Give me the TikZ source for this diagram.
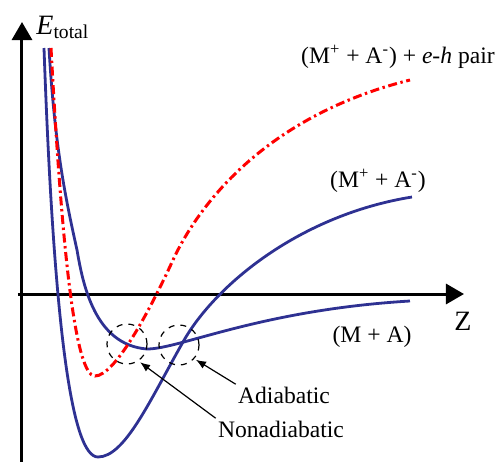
\documentclass[tikz,border=0pt]{standalone}
\usepackage{fontspec}
\setmainfont{Liberation Serif}
\usetikzlibrary{arrows.meta}

\definecolor{pesblue}{RGB}{46,49,146}
\definecolor{pesred}{RGB}{255,0,0}

\begin{document}
\begin{tikzpicture}[x=0.5pt,y=-0.5pt,
    every node/.style={font=\fontsize{11.8}{14}\selectfont},
    axis/.style={line width=1.5pt,-{Triangle[length=9pt,width=10pt]}},
    pes/.style={pesblue,line width=1.4pt},
    ehpes/.style={pesred,line width=1.5pt,dash pattern=on 4.5pt off 1.8pt on 1.2pt off 1.8pt},
    xcross/.style={circle,draw,dashed,line width=0.6pt,minimum size=20pt,inner sep=0pt},
    pointer/.style={line width=0.6pt,-{Latex[length=5pt,width=4pt]},shorten >=1pt}]
\useasboundingbox (0,0) rectangle (495,462);
% axes
\draw[axis] (22,462) -- (22,22);
\draw[axis] (18,294) -- (464,294);
\node[anchor=base west,inner sep=0pt,font=\fontsize{14}{16}\selectfont] (etot) at (36,34) {\textit{E}\textsubscript{total}};
\node[anchor=base,inner sep=0pt,font=\fontsize{14}{16}\selectfont] (zlab) at (463,330) {Z};
% potential energy curves
\draw[pes] (44,48) .. controls (54,330) and (72,457) .. (98,457)
    .. controls (125,457) and (150,400) .. (183,342)
    .. controls (215,285) and (300,215) .. (412,197);
\draw[pes] (49,48) .. controls (55,150) and (66,200) .. (77,250)
    .. controls (83,285) and (95,345) .. (147,349)
    .. controls (180,349) and (260,310) .. (410,301);
\draw[ehpes] (51,48) .. controls (62,250) and (75,376) .. (95,376)
    .. controls (115,376) and (150,310) .. (173,260)
    .. controls (190,223) and (250,120) .. (410,80);
% curve labels
\node[anchor=base,inner sep=0pt] (ehlab) at (398,63) {(M\textsuperscript{+} + A\textsuperscript{-}) + \textit{e}-\textit{h} pair};
\node[anchor=base,inner sep=0pt] (ionlab) at (378,187) {(M\textsuperscript{+} + A\textsuperscript{-})};
\node[anchor=base,inner sep=0pt] (neulab) at (372,342) {(M + A)};
% crossings
\node[xcross] (nonad) at (127,344) {};
\node[xcross] (adiab) at (179,345) {};
\node[anchor=base,inner sep=1pt] (adtext) at (284,403) {Adiabatic};
\node[anchor=base,inner sep=1pt] (natext) at (281,437) {Nonadiabatic};
\draw[pointer] (adtext.north west) -- (adiab.-42);
\draw[pointer] (natext.north west) -- (nonad.-56);
\end{tikzpicture}
\end{document}
